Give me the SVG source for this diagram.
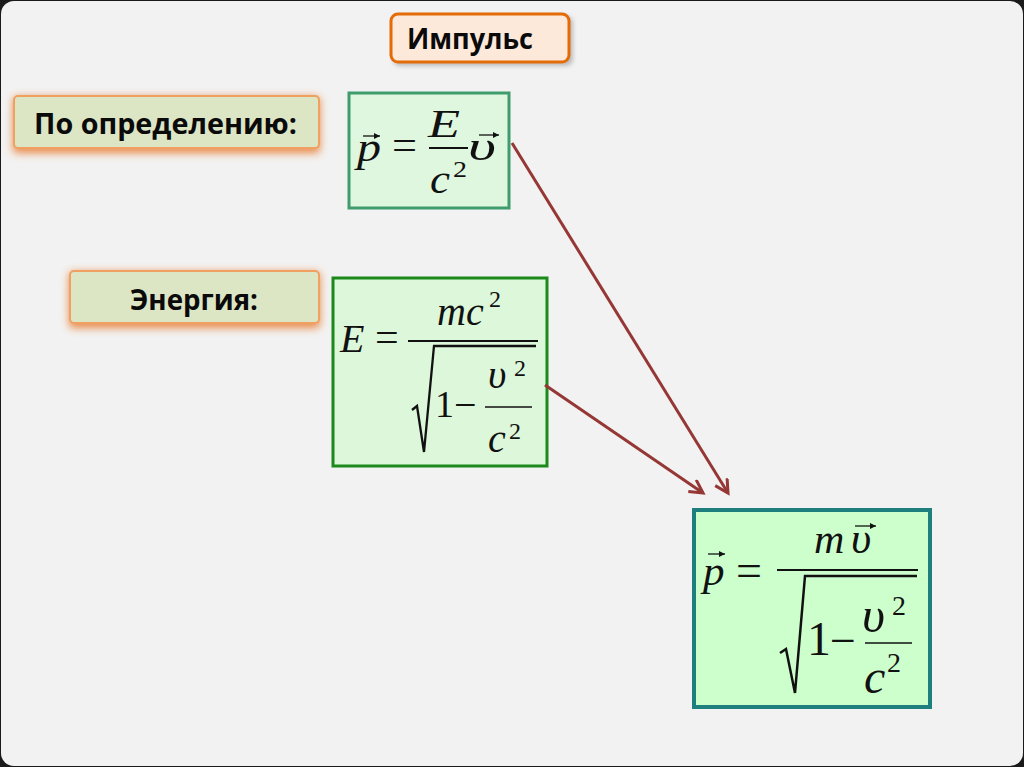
<svg xmlns="http://www.w3.org/2000/svg" width="1024" height="767" viewBox="0 0 1024 767">
<defs>
<style>
.lbl{font-family:"Open Sans","Liberation Sans",sans-serif;font-weight:700;fill:#0a0a0a}
.mi{font-family:"Liberation Serif","Times New Roman",serif;font-style:italic;fill:#111}
.mr{font-family:"Liberation Serif","Times New Roman",serif;fill:#111}
.ln{stroke:#111;fill:none}
.conn{stroke:#953735;stroke-width:3;fill:none}
.lbox{fill:#dde6c4;stroke:#f0a060;stroke-width:2}
.glow{fill:#e8782a;opacity:0.85}
</style>
<filter id="glow" x="-10%" y="-40%" width="120%" height="180%"><feGaussianBlur stdDeviation="4"/></filter>
<filter id="shd" x="-10%" y="-30%" width="120%" height="160%"><feGaussianBlur stdDeviation="2"/></filter>
<marker id="ah" markerUnits="userSpaceOnUse" markerWidth="18" markerHeight="18" refX="15" refY="8" orient="auto"><path d="M2,1 L15,8 L2,15" stroke="#953735" stroke-width="3" fill="none"/></marker>
<marker id="va" markerUnits="userSpaceOnUse" markerWidth="8" markerHeight="8" refX="6" refY="3" orient="auto"><path d="M0,0 L6,3 L0,6 z" fill="#111"/></marker>
</defs>
<rect x="0" y="0" width="1024" height="767" fill="#1a1a1a"/>
<rect x="1" y="1" width="1022" height="765" rx="13" fill="#f2f2f2"/>

<g id="impulse">
<rect x="393" y="16" width="180" height="50" rx="7" fill="#888" opacity="0.5" filter="url(#shd)"/>
<rect x="391" y="14" width="178" height="48" rx="7" fill="#fde9d9" stroke="#e36c09" stroke-width="3"/>
<text class="lbl" x="407" y="49" font-size="28" textLength="126" lengthAdjust="spacingAndGlyphs">Импульс</text>
</g>

<g id="definition">
<rect class="glow" x="13" y="97" width="307" height="56" rx="4" filter="url(#glow)"/>
<rect class="lbox" x="14" y="96" width="305" height="52" rx="4"/>
<text class="lbl" x="34" y="134" font-size="29" textLength="263" lengthAdjust="spacingAndGlyphs">По определению:</text>
</g>

<g id="energy">
<rect class="glow" x="69" y="272" width="251" height="56" rx="4" filter="url(#glow)"/>
<rect class="lbox" x="70" y="271" width="249" height="52" rx="4"/>
<text class="lbl" x="130" y="310" font-size="29" textLength="128" lengthAdjust="spacingAndGlyphs">Энергия:</text>
</g>

<g id="formula1">
<rect x="349" y="93" width="160" height="115" fill="#dff6df" stroke="#3f9c6c" stroke-width="3"/>
<text class="mi" x="357" y="161" font-size="41" textLength="24" lengthAdjust="spacingAndGlyphs">p</text>
<path class="ln" d="M363,136 L380,136" stroke-width="1.3" marker-end="url(#va)"/>
<text class="mr" x="392" y="159" font-size="42" textLength="25" lengthAdjust="spacingAndGlyphs">=</text>
<text class="mi" x="428" y="137" font-size="40" textLength="32" lengthAdjust="spacingAndGlyphs">E</text>
<path class="ln" d="M429,148 L468,148" stroke-width="2"/>
<text class="mi" x="430" y="193" font-size="41" textLength="20" lengthAdjust="spacingAndGlyphs">c</text>
<text class="mr" x="453" y="177" font-size="24" textLength="14" lengthAdjust="spacingAndGlyphs">2</text>
<text class="mi" x="468" y="160" font-size="41" textLength="28" lengthAdjust="spacingAndGlyphs">υ</text>
<path class="ln" d="M479,135 L499,135" stroke-width="1.3" marker-end="url(#va)"/>
</g>

<g id="formula2">
<rect x="333" y="278" width="214" height="188" fill="#ddf7da" stroke="#1b8a1b" stroke-width="3"/>
<text class="mi" x="340" y="352" font-size="40">E</text>
<text class="mr" x="375" y="351" font-size="42">=</text>
<path class="ln" d="M408,341 L538,341" stroke-width="2"/>
<text class="mi" x="437" y="325" font-size="40">mc</text>
<text class="mr" x="489" y="307" font-size="24">2</text>
<path class="ln" d="M412,410 L417,406 L424,452 L434,346 L536,346" stroke-width="2.3"/>
<text class="mr" x="435" y="417" font-size="38">1</text>
<text class="mr" x="454" y="418" font-size="40">−</text>
<text class="mi" x="488" y="388" font-size="40">υ</text>
<text class="mr" x="514" y="376" font-size="24">2</text>
<path class="ln" d="M485,407 L532,407" stroke-width="1.5"/>
<text class="mi" x="488" y="452" font-size="40">c</text>
<text class="mr" x="509" y="439" font-size="24">2</text>
</g>

<g id="formula3">
<rect x="694" y="510" width="236" height="197" fill="#ccffcc" stroke="#1e7f7f" stroke-width="4"/>
<text class="mi" x="703" y="585" font-size="43">p</text>
<path class="ln" d="M708,554 L725,554" stroke-width="1.3" marker-end="url(#va)"/>
<text class="mr" x="736" y="586" font-size="46">=</text>
<path class="ln" d="M777,570 L918,570" stroke-width="2"/>
<text class="mi" x="814" y="553" font-size="42">m</text>
<text class="mi" x="851" y="553" font-size="44">υ</text>
<path class="ln" d="M855,526 L876,526" stroke-width="1.3" marker-end="url(#va)"/>
<path class="ln" d="M780,653 L786,649 L795,693 L805,576 L917,576" stroke-width="2.5"/>
<text class="mr" x="807" y="655" font-size="48">1</text>
<text class="mr" x="830" y="656" font-size="46">−</text>
<text class="mi" x="862" y="632" font-size="50">υ</text>
<text class="mr" x="892" y="615" font-size="28">2</text>
<path class="ln" d="M865,643 L912,643" stroke-width="1.5"/>
<text class="mi" x="864" y="693" font-size="48">c</text>
<text class="mr" x="887" y="672" font-size="28">2</text>
</g>

<g id="connectors">
<path class="conn" d="M512,143 L728,493" marker-end="url(#ah)"/>
<path class="conn" d="M545,385 L703,493" marker-end="url(#ah)"/>
</g>
</svg>
